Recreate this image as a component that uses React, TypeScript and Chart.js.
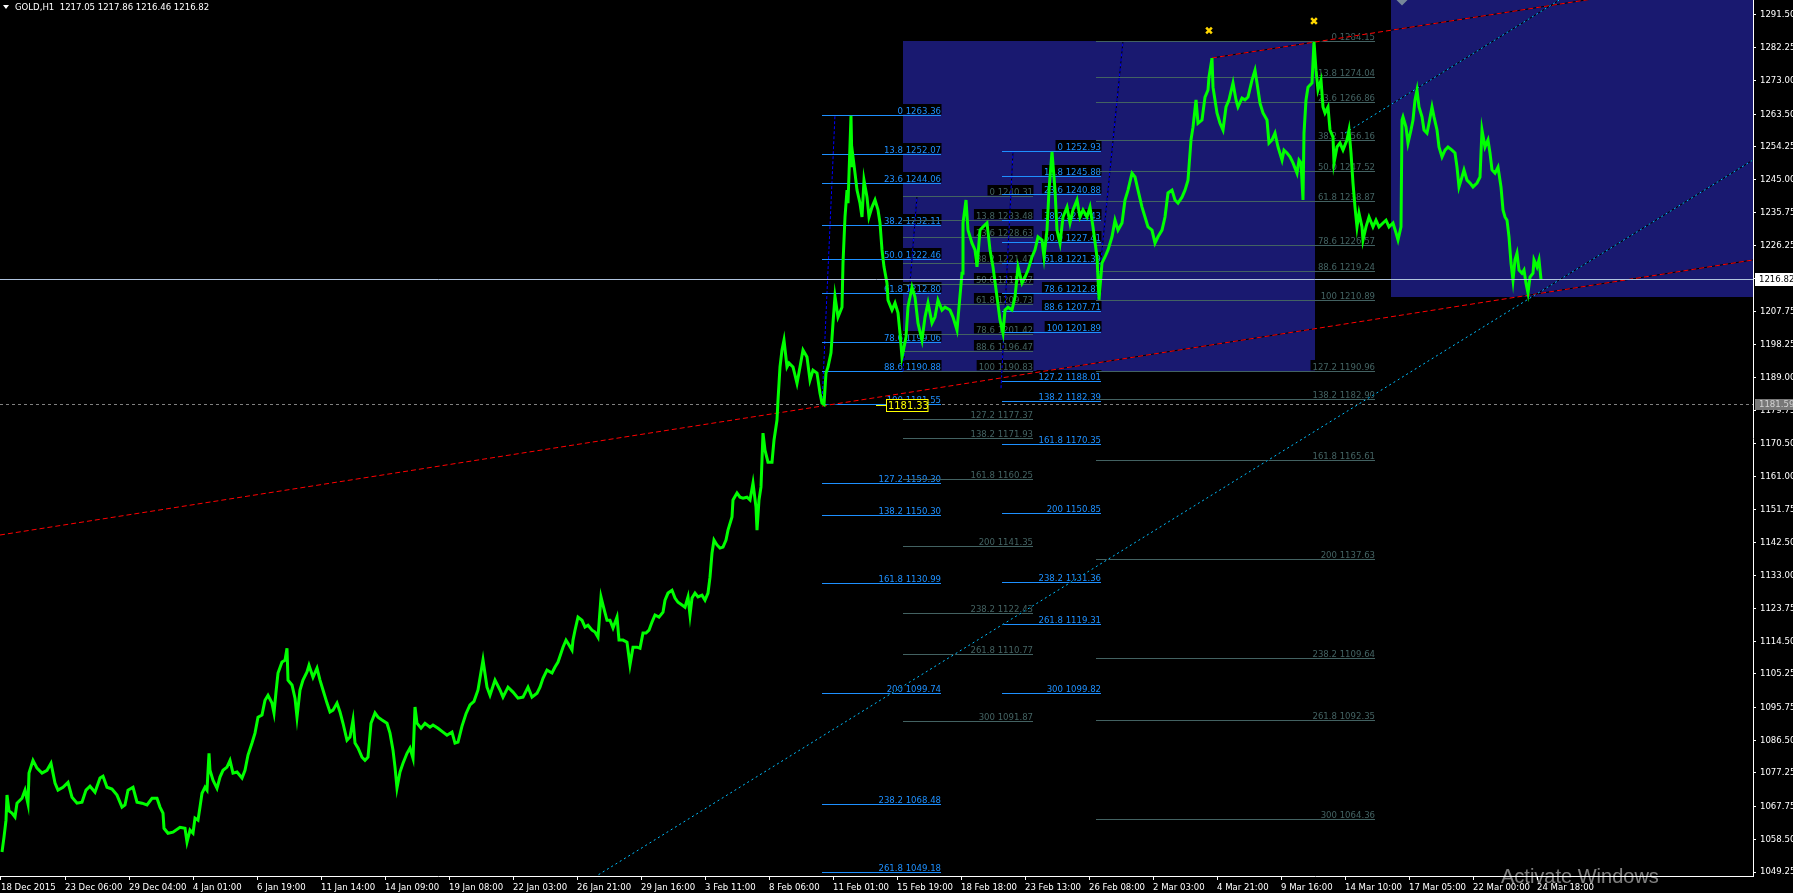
import React, { useEffect, useRef } from 'react';
import { Chart, registerables } from 'chart.js';

Chart.register(...registerables);

const CANVAS_W = 1793;
const CANVAS_H = 893;

// ---------- axes ----------
const xMin = 0;
const xMax = 1753;
const yMin = 1048.12;
const yMax = 1295.74;

const xTickBars = [1, 65, 129, 193, 257, 321, 385, 449, 513, 577, 641, 705, 769, 833, 897, 961, 1025, 1089, 1153, 1217, 1281, 1345, 1409, 1473, 1537];
const xTickLabels = ['18 Dec 2015', '23 Dec 06:00', '29 Dec 04:00', '4 Jan 01:00', '6 Jan 19:00', '11 Jan 14:00', '14 Jan 09:00', '19 Jan 08:00', '22 Jan 03:00', '26 Jan 21:00', '29 Jan 16:00', '3 Feb 11:00', '8 Feb 06:00', '11 Feb 01:00', '15 Feb 19:00', '18 Feb 18:00', '23 Feb 13:00', '26 Feb 08:00', '2 Mar 03:00', '4 Mar 21:00', '9 Mar 16:00', '14 Mar 10:00', '17 Mar 05:00', '22 Mar 00:00', '24 Mar 18:00'];
const yTickValues = [1291.5, 1282.25, 1273.0, 1263.5, 1254.25, 1245.0, 1235.75, 1226.25, 1217.0, 1207.75, 1198.25, 1189.0, 1179.75, 1170.5, 1161.0, 1151.75, 1142.5, 1133.0, 1123.75, 1114.5, 1105.25, 1095.75, 1086.5, 1077.25, 1067.75, 1058.5, 1049.25];

// ---------- GOLD H1 path: [bar index, price] ----------
const goldH1: Array<[number, number]> = [
  [2,1054.9],[4,1059.1],[6,1063.9],[7,1071.0],[9,1066.5],[12,1065.9],[15,1064.8],[17,1068.7],[22,1070.1],[25,1072.4],[28,1068.5],[29,1077.2],[33,1080.8],[37,1078.6],[42,1077.2],[47,1078.0],[51,1080.0],[53,1077.2],[55,1074.4],[58,1072.4],[63,1073.2],[68,1074.6],[72,1070.4],[77,1068.7],[82,1069.0],[86,1072.4],[90,1073.5],[95,1071.8],[100,1075.8],[103,1076.3],[107,1073.2],[112,1072.7],[117,1071.0],[122,1067.6],[125,1068.2],[128,1072.4],[133,1073.2],[137,1069.0],[142,1068.7],[147,1068.2],[152,1070.1],[157,1070.1],[160,1067.6],[163,1065.9],[164,1061.6],[168,1060.2],[173,1060.5],[180,1061.9],[185,1061.6],[187,1057.7],[190,1061.1],[193,1060.2],[195,1064.5],[198,1063.9],[200,1067.6],[202,1071.5],[205,1073.2],[207,1072.4],[209,1082.8],[210,1078.0],[213,1075.2],[217,1072.9],[220,1076.1],[223,1078.0],[227,1078.9],[230,1080.8],[233,1077.2],[237,1077.5],[242,1075.8],[245,1078.0],[248,1082.3],[252,1085.7],[255,1088.5],[258,1093.0],[262,1093.6],[265,1097.8],[268,1099.2],[272,1097.0],[274,1094.2],[276,1100.1],[278,1105.5],[282,1108.6],[285,1109.1],[287,1112.5],[288,1103.5],[292,1102.1],[295,1098.4],[297,1093.0],[300,1100.7],[303,1103.5],[307,1105.8],[309,1107.7],[313,1104.3],[317,1106.9],[320,1103.5],[323,1100.7],[327,1097.0],[330,1094.5],[333,1095.0],[337,1097.0],[340,1094.5],[343,1091.3],[347,1086.5],[350,1087.4],[353,1092.2],[355,1085.7],[358,1084.3],[362,1081.7],[365,1080.8],[368,1081.7],[371,1091.3],[375,1094.2],[378,1093.0],[382,1092.2],[387,1091.3],[390,1088.5],[393,1083.7],[395,1078.9],[397,1073.0],[400,1077.5],[403,1080.0],[407,1082.8],[410,1084.3],[413,1081.4],[415,1095.9],[417,1091.3],[421,1089.9],[425,1091.3],[430,1090.2],[433,1090.8],[438,1089.9],[443,1088.8],[447,1087.9],[452,1088.8],[455,1085.7],[458,1086.0],[462,1090.5],[466,1094.0],[470,1096.5],[474,1097.5],[478,1100.7],[483,1109.2],[487,1101.5],[490,1099.2],[495,1103.5],[500,1100.7],[503,1098.7],[508,1101.5],[513,1100.1],[518,1098.4],[523,1098.7],[528,1101.5],[532,1098.7],[537,1099.8],[540,1101.5],[543,1104.0],[547,1106.3],[552,1105.5],[555,1107.2],[558,1108.6],[561,1111.1],[563,1112.8],[566,1114.8],[568,1113.9],[572,1112.0],[573,1114.8],[575,1117.6],[578,1121.3],[582,1120.4],[585,1118.5],[588,1119.0],[592,1117.6],[595,1117.1],[598,1115.6],[601,1127.0],[603,1124.7],[607,1120.4],[610,1120.4],[613,1118.2],[617,1121.3],[619,1114.8],[623,1114.8],[627,1114.2],[630,1107.8],[633,1112.8],[637,1112.8],[640,1112.5],[643,1116.8],[646,1116.8],[649,1117.6],[652,1119.9],[655,1121.9],[659,1121.3],[663,1122.7],[665,1126.1],[668,1128.1],[672,1128.9],[675,1126.7],[678,1125.5],[682,1124.7],[685,1124.1],[688,1127.0],[690,1121.9],[692,1126.7],[695,1128.1],[698,1127.0],[702,1127.5],[705,1126.1],[708,1128.1],[710,1132.6],[712,1139.4],[714,1143.1],[717,1141.7],[720,1140.8],[723,1141.1],[726,1143.1],[728,1145.9],[732,1149.6],[733,1154.4],[737,1156.4],[740,1155.2],[743,1154.9],[747,1155.2],[750,1154.4],[753,1159.2],[756,1152.4],[757,1145.9],[759,1154.4],[761,1158.1],[763,1173.3],[765,1168.5],[768,1165.1],[772,1165.1],[774,1171.3],[777,1177.0],[778,1182.6],[780,1192.0],[782,1196.8],[784,1199.6],[787,1192.0],[789,1193.1],[793,1192.0],[797,1187.4],[800,1192.0],[803,1196.8],[807,1194.8],[810,1188.3],[813,1191.1],[817,1190.3],[820,1184.6],[822,1181.8],[824,1181.4],[826,1190.3],[828,1192.0],[831,1196.0],[833,1204.4],[835,1212.0],[838,1206.1],[842,1208.9],[843,1221.4],[845,1234.4],[847,1242.0],[848,1238.3],[851,1263.0],[852,1248.5],[853,1251.4],[855,1246.8],[857,1242.0],[860,1238.3],[862,1234.4],[864,1244.8],[867,1240.0],[869,1234.4],[872,1237.2],[875,1239.2],[878,1236.4],[880,1232.7],[882,1225.1],[884,1220.3],[887,1215.7],[888,1210.9],[892,1208.1],[895,1210.1],[898,1207.3],[900,1201.6],[902,1194.8],[903,1196.0],[906,1200.5],[908,1209.0],[912,1214.6],[915,1211.8],[918,1204.4],[922,1199.6],[925,1206.1],[928,1210.1],[932,1204.4],[935,1206.1],[938,1210.9],[942,1208.1],[945,1208.9],[950,1208.1],[953,1206.1],[957,1202.4],[959,1208.9],[962,1218.5],[963,1232.7],[966,1239.2],[968,1230.7],[972,1227.0],[975,1225.1],[977,1220.3],[980,1230.7],[983,1231.6],[987,1232.7],[990,1225.1],[993,1220.3],[997,1211.8],[1000,1205.3],[1003,1201.6],[1005,1208.1],[1008,1208.9],[1012,1208.1],[1015,1211.8],[1018,1220.3],[1022,1215.7],[1025,1217.4],[1028,1219.4],[1032,1223.1],[1035,1225.1],[1038,1228.8],[1042,1227.9],[1044,1223.1],[1047,1230.7],[1049,1242.0],[1052,1252.8],[1055,1242.0],[1057,1230.7],[1060,1227.0],[1063,1234.4],[1067,1237.2],[1070,1232.7],[1073,1236.4],[1077,1239.2],[1080,1234.4],[1083,1236.4],[1087,1234.4],[1090,1237.2],[1093,1231.6],[1097,1223.1],[1099,1211.0],[1102,1221.4],[1105,1223.1],[1108,1225.1],[1112,1228.8],[1115,1233.5],[1118,1230.7],[1122,1232.7],[1125,1239.2],[1128,1242.0],[1132,1246.8],[1135,1245.7],[1138,1242.0],[1142,1237.2],[1145,1234.4],[1148,1231.6],[1152,1230.7],[1155,1227.0],[1158,1228.8],[1162,1230.7],[1165,1234.4],[1168,1241.2],[1172,1242.0],[1175,1239.2],[1178,1238.3],[1182,1240.0],[1185,1242.0],[1188,1244.8],[1191,1256.2],[1193,1259.8],[1196,1267.5],[1198,1260.9],[1202,1261.8],[1205,1268.3],[1208,1270.3],[1209,1274.0],[1212,1279.3],[1213,1271.1],[1217,1263.8],[1220,1260.9],[1223,1259.0],[1226,1265.5],[1229,1267.5],[1233,1272.3],[1236,1267.5],[1238,1265.5],[1242,1268.0],[1245,1267.5],[1248,1268.3],[1252,1273.1],[1255,1275.9],[1257,1272.3],[1260,1266.6],[1263,1263.8],[1267,1261.8],[1269,1255.3],[1272,1256.2],[1275,1258.1],[1278,1254.2],[1282,1250.5],[1284,1253.3],[1287,1252.5],[1290,1251.4],[1293,1249.7],[1297,1246.8],[1299,1250.5],[1301,1249.7],[1303,1239.2],[1304,1258.1],[1306,1267.5],[1308,1271.1],[1312,1272.3],[1314,1283.9],[1316,1275.9],[1318,1270.3],[1321,1273.1],[1323,1265.5],[1325,1263.8],[1328,1265.5],[1330,1259.0],[1333,1257.0],[1334,1249.7],[1337,1254.2],[1340,1255.3],[1343,1253.3],[1347,1256.2],[1349,1259.0],[1351,1252.5],[1353,1244.0],[1355,1237.2],[1357,1231.6],[1359,1235.5],[1362,1231.6],[1363,1227.9],[1366,1231.6],[1369,1234.4],[1373,1231.6],[1376,1233.5],[1379,1231.6],[1383,1232.7],[1386,1233.5],[1389,1231.6],[1393,1232.7],[1396,1229.9],[1398,1227.9],[1401,1231.6],[1402,1261.8],[1403,1262.7],[1406,1259.8],[1408,1255.3],[1411,1259.0],[1413,1261.8],[1415,1267.5],[1417,1270.3],[1419,1265.5],[1422,1262.7],[1424,1259.0],[1427,1258.1],[1429,1260.9],[1432,1265.5],[1434,1262.7],[1437,1259.0],[1439,1254.2],[1442,1251.4],[1445,1253.3],[1448,1254.2],[1452,1253.3],[1455,1252.5],[1457,1248.5],[1459,1242.9],[1462,1245.7],[1464,1247.7],[1467,1244.8],[1470,1244.0],[1473,1242.9],[1477,1244.0],[1480,1245.7],[1482,1259.0],[1485,1254.2],[1488,1256.2],[1490,1252.5],[1492,1247.7],[1495,1246.8],[1498,1248.5],[1501,1242.9],[1503,1236.4],[1505,1234.4],[1507,1233.5],[1509,1228.8],[1511,1221.4],[1513,1216.6],[1515,1222.3],[1517,1224.2],[1519,1219.4],[1522,1218.5],[1524,1219.4],[1526,1215.7],[1528,1212.9],[1530,1217.4],[1533,1218.5],[1534,1222.3],[1537,1220.3],[1539,1222.3],[1541,1216.8]
];

// ---------- Fibonacci retracements ----------
const fibLevels = ['0', '13.8', '23.6', '38.2', '50.0', '61.8', '78.6', '88.6', '100', '127.2', '138.2', '161.8', '200', '238.2', '261.8', '300'];
const fibAPrices = [1263.36, 1252.07, 1244.06, 1232.11, 1222.46, 1212.80, 1199.06, 1190.88, 1181.55, 1159.30, 1150.30, 1130.99, 1099.74, 1068.48, 1049.18];
const fibASpan = [822, 941];
const fibABase = [822, 1181.55, 835, 1263.36];
const fibBPrices = [1240.31, 1233.48, 1228.63, 1221.41, 1215.57, 1209.73, 1201.42, 1196.47, 1190.83, 1177.37, 1171.93, 1160.25, 1141.35, 1122.43, 1110.77, 1091.87];
const fibBSpan = [903, 1033];
const fibBBase = [903, 1190.83, 917, 1240.31];
const fibCPrices = [1252.93, 1245.88, 1240.88, 1233.43, 1227.41, 1221.39, 1212.81, 1207.71, 1201.89, 1188.01, 1182.39, 1170.35, 1150.85, 1131.36, 1119.31, 1099.82];
const fibCSpan = [1002, 1101];
const fibCBase = [1001, 1186.0, 1013, 1252.93];
const fibDPrices = [1284.15, 1274.04, 1266.86, 1256.16, 1247.52, 1238.87, 1226.57, 1219.24, 1210.89, 1190.96, 1182.90, 1165.61, 1137.63, 1109.64, 1092.35, 1064.36];
const fibDSpan = [1096, 1375];
const fibDBase = [1097, 1210.89, 1123, 1284.15];

// ---------- rectangles [bar1, price1, bar2, price2] ----------
const rectOne = [903, 1284.15, 1315, 1190.83];
const rectTwo = [1391, 1300.0, 1760, 1211.8];

// ---------- trend lines [bar1, price1, bar2, price2] ----------
const redLineLow = [0, 1144.51, 1753, 1222.25];
const redLineHigh = [1212, 1279.35, 1753, 1303.06];
const cyanLineLow = [590, 1047.0, 1753, 1250.51];
const cyanLineHigh = [1345, 1258.14, 1753, 1329.7];

// ---------- horizontal prices ----------
const bidPrice = 1216.82;
const askPrice = 1181.59;
const priceLabelValue = 1181.33;
const priceLabelBar = 876;
const stopBars = [1209, 1314];
const stopPrices = [1287.1, 1289.8];
const shiftMarkerBar = 1402;
const titleText = 'GOLD,H1  1217.05 1217.86 1216.46 1216.82';

function detectFont() {
  const c = document.createElement('canvas').getContext('2d') as CanvasRenderingContext2D;
  const sample = '1291.50 GOLD Dec';
  const has = (fam: string) => {
    c.font = `50px ${fam}, monospace`;
    const a = c.measureText(sample).width;
    c.font = '50px monospace';
    const b = c.measureText(sample).width;
    return Math.abs(a - b) > 0.5;
  };
  if (has('"Liberation Sans Narrow"')) return { fam: '"Liberation Sans Narrow"', size: 11, big: 13 };
  if (has('"DejaVu Sans Condensed"')) return { fam: '"DejaVu Sans Condensed"', size: 9.5, big: 11 };
  return { fam: '"Liberation Sans"', size: 9.5, big: 11 };
}

function strokeSeg(ctx: any, x1: number, y1: number, x2: number, y2: number, color: string, dash: number[]) {
  ctx.lineWidth = 1;
  ctx.setLineDash([]);
  ctx.strokeStyle = '#000000';
  ctx.beginPath();
  ctx.moveTo(x1, y1);
  ctx.lineTo(x2, y2);
  ctx.stroke();
  ctx.setLineDash(dash);
  ctx.strokeStyle = color;
  ctx.beginPath();
  ctx.moveTo(x1, y1);
  ctx.lineTo(x2, y2);
  ctx.stroke();
  ctx.setLineDash([]);
}

function makePlugin(F: any) {
  const fontStr = (s: number) => `${s}px ${F.fam}`;
  return {
    id: 'mt4Objects',
    beforeDraw(chart: any) {
      const ctx = chart.ctx;
      ctx.save();
      ctx.fillStyle = '#000000';
      ctx.fillRect(0, 0, chart.width, chart.height);
      ctx.restore();
    },
    beforeDatasetsDraw(chart: any) {
      const { ctx, chartArea: ca, scales } = chart;
      const px = (b: number) => scales.x.getPixelForValue(b);
      const py = (p: number) => scales.y.getPixelForValue(p);
      ctx.save();
      ctx.beginPath();
      ctx.rect(ca.left, ca.top, ca.right - ca.left, ca.bottom - ca.top);
      ctx.clip();

      // rectangles
      ctx.fillStyle = '#191970';
      [rectOne, rectTwo].forEach((r) => {
        const x1 = Math.round(px(r[0]));
        const x2 = Math.round(px(r[2]));
        const y1 = Math.round(py(r[1]));
        const y2 = Math.round(py(r[3]));
        ctx.fillRect(Math.min(x1, x2), Math.min(y1, y2), Math.abs(x2 - x1), Math.abs(y2 - y1));
      });

      // ask line (dashed gray)
      {
        const yy = Math.round(py(askPrice)) + 0.5;
        ctx.lineWidth = 1;
        ctx.setLineDash([3, 3]);
        ctx.strokeStyle = '#808080';
        ctx.beginPath();
        ctx.moveTo(ca.left, yy);
        ctx.lineTo(ca.right, yy);
        ctx.stroke();
        ctx.setLineDash([]);
      }

      // fibonacci sets
      const drawFib = (span: number[], prices: number[], base: number[], color: string) => {
        const xa = Math.round(px(span[0]));
        const xb = Math.round(px(span[1]));
        strokeSeg(ctx, px(base[0]), py(base[1]), px(base[2]), py(base[3]), '#0000ff', [3, 2]);
        ctx.lineWidth = 1;
        ctx.strokeStyle = color;
        prices.forEach((p) => {
          const yy = Math.round(py(p)) + 0.5;
          ctx.beginPath();
          ctx.moveTo(xa, yy);
          ctx.lineTo(xb, yy);
          ctx.stroke();
        });
        ctx.font = fontStr(F.size);
        ctx.textAlign = 'left';
        ctx.textBaseline = 'alphabetic';
        prices.forEach((p, i) => {
          const yy = Math.round(py(p));
          const txt = `${fibLevels[i]} ${p.toFixed(2)}`;
          const w = ctx.measureText(txt).width;
          ctx.fillStyle = '#000000';
          ctx.fillRect(xb - w - 2, yy - 11, w + 2.5, 10.5);
          ctx.fillStyle = color;
          ctx.fillText(txt, xb - w, yy - 1.5);
        });
      };
      drawFib(fibASpan, fibAPrices, fibABase, '#1e90ff');
      drawFib(fibBSpan, fibBPrices, fibBBase, '#436262');
      drawFib(fibCSpan, fibCPrices, fibCBase, '#1e90ff');
      drawFib(fibDSpan, fibDPrices, fibDBase, '#436262');

      // trend lines
      const tl = (l: number[], color: string, dash: number[]) =>
        strokeSeg(ctx, px(l[0]), py(l[1]), px(l[2]), py(l[3]), color, dash);
      tl(redLineLow, '#ff0000', [5, 3]);
      tl(redLineHigh, '#ff0000', [5, 3]);
      tl(cyanLineLow, '#00bfff', [2, 3]);
      tl(cyanLineHigh, '#00bfff', [2, 3]);

      ctx.restore();
    },
    afterDatasetsDraw(chart: any) {
      const { ctx, chartArea: ca, scales } = chart;
      const px = (b: number) => scales.x.getPixelForValue(b);
      const py = (p: number) => scales.y.getPixelForValue(p);
      ctx.save();

      // bid line
      const by = Math.round(py(bidPrice)) + 0.5;
      ctx.lineWidth = 1;
      ctx.strokeStyle = '#b0c4de';
      ctx.beginPath();
      ctx.moveTo(ca.left, by);
      ctx.lineTo(ca.right, by);
      ctx.stroke();

      // yellow price label
      const ly = Math.round(py(priceLabelValue)) + 0.5;
      const lx = Math.round(px(priceLabelBar));
      ctx.strokeStyle = '#ffff00';
      ctx.beginPath();
      ctx.moveTo(lx, ly);
      ctx.lineTo(lx + 10, ly);
      ctx.stroke();
      ctx.fillStyle = '#000000';
      ctx.fillRect(lx + 10, ly - 6, 42, 12);
      ctx.strokeRect(lx + 10.5, ly - 6, 41.5, 12);
      ctx.font = fontStr(F.big);
      ctx.fillStyle = '#ffff00';
      ctx.textAlign = 'left';
      ctx.textBaseline = 'middle';
      ctx.fillText(priceLabelValue.toFixed(2), lx + 12, ly + 0.5);

      // shift marker
      const sx = Math.round(px(shiftMarkerBar));
      ctx.fillStyle = '#778899';
      ctx.beginPath();
      ctx.moveTo(sx - 5.5, 0);
      ctx.lineTo(sx + 5.5, 0);
      ctx.lineTo(sx, 5.5);
      ctx.closePath();
      ctx.fill();

      // right axis price boxes
      ctx.font = fontStr(F.size);
      ctx.textBaseline = 'middle';
      const bidY = py(bidPrice);
      ctx.fillStyle = '#ffffff';
      ctx.fillRect(ca.right + 2, Math.round(bidY) - 6, 40, 13);
      ctx.fillStyle = '#000000';
      ctx.fillText(bidPrice.toFixed(2), ca.right + 6, Math.round(bidY) + 0.5);
      const askY = py(askPrice);
      ctx.fillStyle = '#787878';
      ctx.fillRect(ca.right + 2, Math.round(askY) - 5, 40, 11);
      ctx.fillStyle = '#d4d4d4';
      ctx.fillText(askPrice.toFixed(2), ca.right + 6, Math.round(askY) + 0.5);

      // title
      ctx.fillStyle = '#ffffff';
      ctx.beginPath();
      ctx.moveTo(3, 5);
      ctx.lineTo(9, 5);
      ctx.lineTo(6, 9);
      ctx.closePath();
      ctx.fill();
      ctx.fillText(titleText, 15, 8);
      ctx.restore();
    },
    afterDraw(chart: any) {
      const ctx = chart.ctx;
      ctx.save();
      ctx.textAlign = 'left';
      ctx.textBaseline = 'alphabetic';
      ctx.fillStyle = 'rgba(255,255,255,0.5)';
      ctx.font = '20px "Liberation Sans", sans-serif';
      ctx.fillText('Activate Windows', 1501, 883);
      ctx.font = '13px "Liberation Sans", sans-serif';
      ctx.fillText('Go to Settings to activate Windows.', 1501, 902);
      ctx.restore();
    },
  };
}

export default function App() {
  const ref = useRef<HTMLCanvasElement>(null);
  useEffect(() => {
    const canvas = ref.current as HTMLCanvasElement;
    const F = detectFont();
    const chart = new Chart(canvas, {
      type: 'line',
      data: {
        datasets: [
          {
            label: 'GOLD,H1',
            data: goldH1.map(([b, p]) => ({ x: b, y: p })),
            borderColor: '#00ff00',
            borderWidth: 3,
            pointRadius: 0,
            tension: 0,
            fill: false,
          },
          {
            label: 'stops',
            data: stopBars.map((b, i) => ({ x: b, y: stopPrices[i] })),
            showLine: false,
            pointStyle: 'crossRot',
            pointRadius: 4,
            borderColor: '#ffd700',
            backgroundColor: '#ffd700',
            borderWidth: 2.5,
          },
        ],
      } as any,
      options: {
        animation: false,
        responsive: false,
        devicePixelRatio: 1,
        events: [],
        layout: { padding: 0, autoPadding: false },
        plugins: { legend: { display: false }, tooltip: { enabled: false }, title: { display: false } },
        scales: {
          x: {
            type: 'linear',
            position: 'bottom',
            min: xMin,
            max: xMax,
            bounds: 'data',
            afterBuildTicks: (s: any) => {
              s.ticks = xTickBars.map((v) => ({ value: v }));
            },
            afterFit: (s: any) => {
              s.height = 17;
              s.paddingLeft = 0;
              s.paddingRight = 0;
            },
            grid: { display: true, drawOnChartArea: false, drawTicks: true, tickLength: 4, color: '#ffffff', lineWidth: 1 },
            border: { display: true, color: '#ffffff', width: 1 },
            ticks: {
              autoSkip: false,
              maxRotation: 0,
              minRotation: 0,
              align: 'start',
              padding: 2,
              color: '#ffffff',
              font: { family: F.fam, size: F.size },
              callback: (_v: any, i: number) => xTickLabels[i] ?? '',
            },
          },
          y: {
            type: 'linear',
            position: 'right',
            min: yMin,
            max: yMax,
            bounds: 'data',
            afterBuildTicks: (s: any) => {
              s.ticks = yTickValues.map((v) => ({ value: v }));
            },
            afterFit: (s: any) => {
              s.width = 40;
              s.paddingTop = 0;
              s.paddingBottom = 0;
            },
            grid: { display: true, drawOnChartArea: false, drawTicks: true, tickLength: 3, color: '#ffffff', lineWidth: 1 },
            border: { display: true, color: '#ffffff', width: 1 },
            ticks: {
              autoSkip: false,
              padding: 4,
              color: '#ffffff',
              font: { family: F.fam, size: F.size },
              callback: (v: any) => Number(v).toFixed(2),
            },
          },
        },
      } as any,
      plugins: [makePlugin(F) as any],
    });
    return () => chart.destroy();
  }, []);

  return (
    <div style={{ position: 'fixed', left: 0, top: 0, width: CANVAS_W, height: CANVAS_H, background: '#000' }}>
      <canvas ref={ref} width={CANVAS_W} height={CANVAS_H} style={{ display: 'block', width: CANVAS_W, height: CANVAS_H }} />
    </div>
  );
}
